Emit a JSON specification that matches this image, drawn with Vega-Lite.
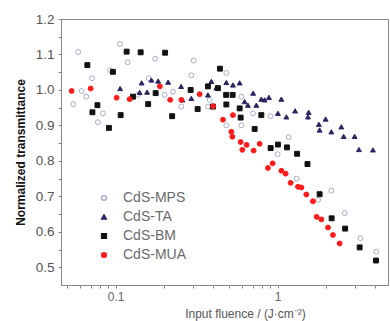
{
  "$schema": "https://vega.github.io/schema/vega-lite/v6.json",
  "width": 327,
  "height": 266,
  "autosize": {"type": "none"},
  "padding": {"left": 61, "top": 19, "right": 2, "bottom": 36},
  "background": "white",
  "config": {
    "view": {"stroke": "#8a8a8a", "strokeWidth": 1},
    "font": "Liberation Sans"
  },
  "data": {"values": [
    {"s":"CdS-MPS","x":0.0587,"y":1.107},{"s":"CdS-MPS","x":0.1063,"y":1.129},{"s":"CdS-MPS","x":0.1186,"y":1.078},{"s":"CdS-MPS","x":0.1753,"y":1.088},
    {"s":"CdS-MPS","x":0.0714,"y":1.033},{"s":"CdS-MPS","x":0.0925,"y":1.056},{"s":"CdS-MPS","x":0.0547,"y":0.960},{"s":"CdS-MPS","x":0.0659,"y":0.981},
    {"s":"CdS-MPS","x":0.0835,"y":0.934},{"s":"CdS-MPS","x":0.0777,"y":0.909},{"s":"CdS-MPS","x":0.1599,"y":1.033},{"s":"CdS-MPS","x":0.1367,"y":0.986},
    {"s":"CdS-MPS","x":0.2006,"y":0.986},{"s":"CdS-MPS","x":0.3030,"y":1.083},{"s":"CdS-MPS","x":0.2544,"y":0.953},{"s":"CdS-MPS","x":0.2933,"y":1.041},
    {"s":"CdS-MPS","x":0.2258,"y":0.995},{"s":"CdS-MPS","x":0.3804,"y":0.972},{"s":"CdS-MPS","x":0.3713,"y":0.953},{"s":"CdS-MPS","x":0.4824,"y":1.048},
    {"s":"CdS-MPS","x":0.5971,"y":0.981},{"s":"CdS-MPS","x":0.7039,"y":0.934},{"s":"CdS-MPS","x":0.9052,"y":0.926},{"s":"CdS-MPS","x":0.4824,"y":0.900},
    {"s":"CdS-MPS","x":0.5971,"y":0.900},{"s":"CdS-MPS","x":1.0,"y":0.819},{"s":"CdS-MPS","x":1.169,"y":0.867},{"s":"CdS-MPS","x":1.310,"y":0.750},
    {"s":"CdS-MPS","x":2.146,"y":0.716},{"s":"CdS-MPS","x":2.593,"y":0.653},{"s":"CdS-MPS","x":3.240,"y":0.582},{"s":"CdS-MPS","x":4.068,"y":0.544},
    {"s":"CdS-MPS","x":1.778,"y":0.690},{"s":"CdS-MPS","x":0.0617,"y":0.997},
    {"s":"CdS-TA","x":0.1066,"y":1.004},{"s":"CdS-TA","x":0.1406,"y":0.993},{"s":"CdS-TA","x":0.1447,"y":1.020},{"s":"CdS-TA","x":0.1663,"y":1.028},
    {"s":"CdS-TA","x":0.1830,"y":1.025},{"s":"CdS-TA","x":0.1564,"y":0.994},{"s":"CdS-TA","x":0.2108,"y":1.022},{"s":"CdS-TA","x":0.2537,"y":1.010},
    {"s":"CdS-TA","x":0.2581,"y":0.972},{"s":"CdS-TA","x":0.2933,"y":0.976},{"s":"CdS-TA","x":0.3898,"y":1.024},{"s":"CdS-TA","x":0.4183,"y":1.006},
    {"s":"CdS-TA","x":0.3713,"y":0.986},{"s":"CdS-TA","x":0.4824,"y":1.021},{"s":"CdS-TA","x":0.5297,"y":1.014},{"s":"CdS-TA","x":0.5828,"y":1.020},
    {"s":"CdS-TA","x":0.7061,"y":0.991},{"s":"CdS-TA","x":0.7931,"y":0.974},{"s":"CdS-TA","x":0.6254,"y":0.967},{"s":"CdS-TA","x":0.6555,"y":0.957},
    {"s":"CdS-TA","x":0.7388,"y":0.957},{"s":"CdS-TA","x":0.8311,"y":0.972},{"s":"CdS-TA","x":0.8838,"y":0.979},{"s":"CdS-TA","x":1.054,"y":0.974},
    {"s":"CdS-TA","x":1.004,"y":0.934},{"s":"CdS-TA","x":1.132,"y":0.924},{"s":"CdS-TA","x":1.282,"y":0.941},{"s":"CdS-TA","x":1.554,"y":0.937},
    {"s":"CdS-TA","x":1.538,"y":0.924},{"s":"CdS-TA","x":1.978,"y":0.918},{"s":"CdS-TA","x":1.798,"y":0.903},{"s":"CdS-TA","x":1.816,"y":0.887},
    {"s":"CdS-TA","x":2.146,"y":0.882},{"s":"CdS-TA","x":2.473,"y":0.896},{"s":"CdS-TA","x":2.556,"y":0.869},{"s":"CdS-TA","x":2.988,"y":0.869},
    {"s":"CdS-TA","x":3.176,"y":0.832},{"s":"CdS-TA","x":3.875,"y":0.831},
    {"s":"CdS-BM","x":0.0669,"y":1.070},{"s":"CdS-BM","x":0.1169,"y":1.108},{"s":"CdS-BM","x":0.1427,"y":1.106},{"s":"CdS-BM","x":0.2020,"y":1.105},
    {"s":"CdS-BM","x":0.0962,"y":1.051},{"s":"CdS-BM","x":0.0772,"y":0.957},{"s":"CdS-BM","x":0.0719,"y":0.937},{"s":"CdS-BM","x":0.1074,"y":0.929},
    {"s":"CdS-BM","x":0.0909,"y":0.893},{"s":"CdS-BM","x":0.1588,"y":0.960},{"s":"CdS-BM","x":0.1766,"y":0.991},{"s":"CdS-BM","x":0.1279,"y":0.981},
    {"s":"CdS-BM","x":0.2233,"y":0.926},{"s":"CdS-BM","x":0.2904,"y":1.000},{"s":"CdS-BM","x":0.3208,"y":0.946},{"s":"CdS-BM","x":0.4403,"y":1.060},
    {"s":"CdS-BM","x":0.3713,"y":1.010},{"s":"CdS-BM","x":0.4810,"y":0.986},{"s":"CdS-BM","x":0.5275,"y":0.986},{"s":"CdS-BM","x":0.4824,"y":0.959},
    {"s":"CdS-BM","x":0.5828,"y":0.948},{"s":"CdS-BM","x":0.7931,"y":0.929},{"s":"CdS-BM","x":0.7211,"y":0.890},{"s":"CdS-BM","x":0.4279,"y":1.005},
    {"s":"CdS-BM","x":0.3988,"y":0.953},{"s":"CdS-BM","x":0.5911,"y":0.922},{"s":"CdS-BM","x":0.9052,"y":0.836},{"s":"CdS-BM","x":1.004,"y":0.846},
    {"s":"CdS-BM","x":1.141,"y":0.838},{"s":"CdS-BM","x":1.319,"y":0.820},{"s":"CdS-BM","x":1.528,"y":0.791},{"s":"CdS-BM","x":1.816,"y":0.706},
    {"s":"CdS-BM","x":2.154,"y":0.638},{"s":"CdS-BM","x":2.610,"y":0.609},{"s":"CdS-BM","x":3.207,"y":0.556},{"s":"CdS-BM","x":4.045,"y":0.519},
    {"s":"CdS-MUA","x":0.0535,"y":0.997},{"s":"CdS-MUA","x":0.0701,"y":1.004},{"s":"CdS-MUA","x":0.1014,"y":0.978},{"s":"CdS-MUA","x":0.1220,"y":0.974},
    {"s":"CdS-MUA","x":0.1875,"y":1.010},{"s":"CdS-MUA","x":0.2170,"y":0.972},{"s":"CdS-MUA","x":0.2544,"y":0.972},{"s":"CdS-MUA","x":0.3300,"y":0.988},
    {"s":"CdS-MUA","x":0.3999,"y":0.954},{"s":"CdS-MUA","x":0.4596,"y":0.916},{"s":"CdS-MUA","x":0.5297,"y":0.929},{"s":"CdS-MUA","x":0.5178,"y":0.882},
    {"s":"CdS-MUA","x":0.5252,"y":0.868},{"s":"CdS-MUA","x":0.5911,"y":0.853},{"s":"CdS-MUA","x":0.6436,"y":0.845},{"s":"CdS-MUA","x":0.6054,"y":0.831},
    {"s":"CdS-MUA","x":0.7110,"y":0.829},{"s":"CdS-MUA","x":0.7743,"y":0.848},{"s":"CdS-MUA","x":0.9314,"y":0.793},{"s":"CdS-MUA","x":0.8710,"y":0.780},
    {"s":"CdS-MUA","x":1.054,"y":0.772},{"s":"CdS-MUA","x":1.121,"y":0.764},{"s":"CdS-MUA","x":1.203,"y":0.738},{"s":"CdS-MUA","x":1.335,"y":0.727},
    {"s":"CdS-MUA","x":1.401,"y":0.725},{"s":"CdS-MUA","x":1.503,"y":0.705},{"s":"CdS-MUA","x":1.652,"y":0.686},{"s":"CdS-MUA","x":1.741,"y":0.642},
    {"s":"CdS-MUA","x":1.861,"y":0.635},{"s":"CdS-MUA","x":2.045,"y":0.612},{"s":"CdS-MUA","x":2.195,"y":0.591},{"s":"CdS-MUA","x":2.414,"y":0.567}
  ]},
  "mark": {"type": "point", "filled": false, "strokeWidth": 1, "opacity": 1, "size": 24},
  "encoding": {
    "x": {
      "field": "x", "type": "quantitative",
      "scale": {"type": "log", "domain": [0.046, 4.8], "nice": false},
      "axis": {
        "title": "Input fluence / (J·cm⁻²)",
        "titleFont": "Liberation Sans", "titleFontSize": 12, "titleFontWeight": "normal", "titleColor": "#555555",
        "titleX": 184, "titleY": 28, "titleAnchor": "middle", "titleBaseline": "middle",
        "values": [0.05,0.06,0.07,0.08,0.09,0.1,0.2,0.3,0.4,0.5,0.6,0.7,0.8,0.9,1,2,3,4],
        "labelExpr": "datum.value == 0.1 ? '0.1' : (datum.value == 1 ? '1' : '')",
        "labelFontSize": 12, "labelColor": "#666666", "labelPadding": 3,
        "tickSize": 3, "tickColor": "#888888", "domainColor": "#888888", "grid": false
      }
    },
    "y": {
      "field": "y", "type": "quantitative",
      "scale": {"domain": [0.45, 1.2], "nice": false, "zero": false},
      "axis": {
        "title": "Normalized transmittance",
        "titleFont": "Liberation Sans", "titleFontSize": 12, "titleFontWeight": "bold", "titleColor": "#111111",
        "titlePadding": 8,
        "values": [0.5,0.55,0.6,0.65,0.7,0.75,0.8,0.85,0.9,0.95,1.0,1.05,1.1,1.15,1.2],
        "labelExpr": "abs(datum.value*10 - round(datum.value*10)) < 0.01 ? format(datum.value, '.1f') : ''",
        "labelFontSize": 13.5, "labelColor": "#555555", "labelPadding": 4,
        "tickSize": 3, "tickColor": "#888888", "domainColor": "#888888", "grid": false
      }
    },
    "shape": {
      "field": "s", "type": "nominal",
      "scale": {"domain": ["CdS-MPS","CdS-TA","CdS-BM","CdS-MUA"], "range": ["circle","triangle-up","square","circle"]},
      "legend": {
        "title": null, "orient": "none", "legendX": 36, "legendY": 172,
        "labelFontSize": 14, "labelColor": "#6a6a6a", "labelFont": "Liberation Sans",
        "symbolSize": 22, "rowPadding": 5, "labelOffset": 12
      }
    },
    "fill": {
      "field": "s", "type": "nominal",
      "scale": {"domain": ["CdS-MPS","CdS-TA","CdS-BM","CdS-MUA"], "range": ["transparent","#2b2462","#111111","#ff1a1a"]}
    },
    "stroke": {
      "field": "s", "type": "nominal",
      "scale": {"domain": ["CdS-MPS","CdS-TA","CdS-BM","CdS-MUA"], "range": ["#a6aec6","#2b2462","#111111","#ff1a1a"]}
    }
  }
}
